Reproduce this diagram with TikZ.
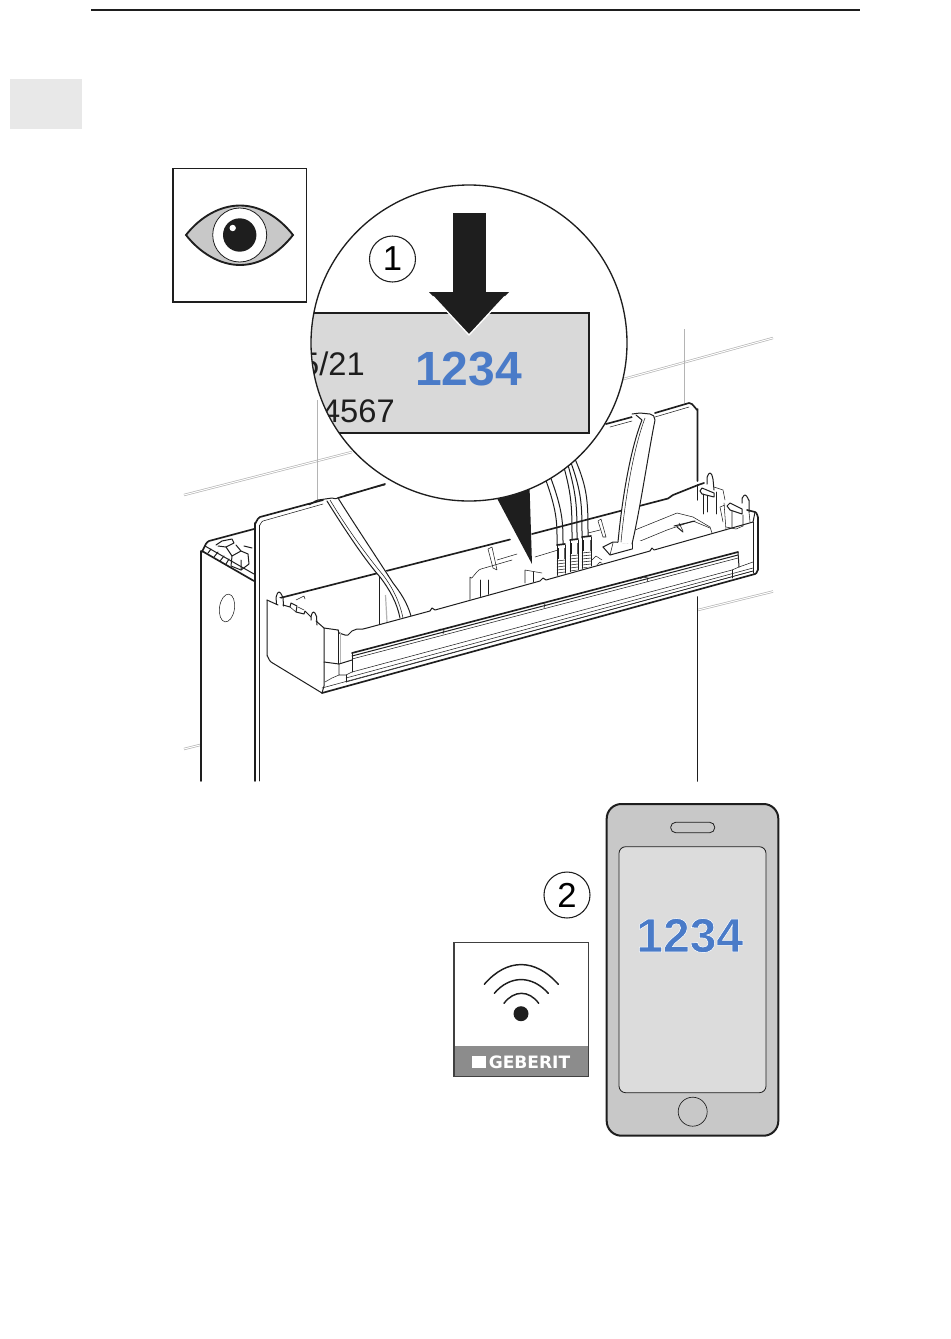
\documentclass[tikz,border=0pt]{standalone}
\usepackage{fontspec}
\setmainfont{Liberation Sans}
\newfontfamily\gebfont{DejaVu Sans}
\definecolor{codeblue}{HTML}{4A7BC8}
\definecolor{labelgrey}{HTML}{D9D9D9}
\definecolor{phonegrey}{HTML}{C8C8C8}
\definecolor{screengrey}{HTML}{DCDCDC}
\definecolor{tabgrey}{HTML}{E8E8E8}
\definecolor{bandgrey}{HTML}{8C8C8C}
\definecolor{tilegrey}{HTML}{B4B4B4}
\definecolor{inkblack}{HTML}{1E1E1E}
\tikzset{
  thk/.style={draw=inkblack,line width=1.25pt,line join=round,line cap=round},
  med/.style={draw=inkblack,line width=.75pt,line join=round,line cap=round},
  thn/.style={draw=inkblack,line width=.4pt,line join=round,line cap=round},
  tile/.style={draw=tilegrey,line width=.5pt,double=white,double distance=.75pt},
  tilev/.style={draw=tilegrey,line width=.7pt},
  numring/.style={circle,draw=inkblack,line width=.8pt,minimum size=34.5pt,inner sep=0pt,font=\fontsize{26}{26}\selectfont},
  code/.style={font=\fontsize{36}{36}\selectfont\bfseries,text=codeblue,inner sep=0pt,anchor=base},
  plate/.style={font=\fontsize{24.5}{24.5}\selectfont,text=inkblack,inner sep=0pt,anchor=base east}
}
\begin{document}
\begin{tikzpicture}[x=.75pt,y=-.75pt]
\useasboundingbox (0,0) rectangle (950,1339);
% page furniture
\draw[line width=1.4pt,draw=inkblack] (91,10) -- (860,10);
\fill[tabgrey] (10,79) rectangle (81.5,129);
% tiles
\draw[tile] (184,495) -- (352,452);
\draw[tile] (620,380) -- (773,338);
\draw[tile] (698,610) -- (773,591.5);
\draw[tile] (184,749) -- (200,745);
\draw[tilev] (317.5,400) -- (317.5,505);
\draw[tilev] (684,329) -- (684,404);
% rear box
\path[fill=white] (201,781) -- (201,552) -- (206,542) -- (256,528) -- (256,781) -- cycle;
\draw[thk] (201,781) -- (201,551) to[out=-80,in=200] (209,541) -- (254,529);
\draw[thk] (202,551) -- (254,581);
\draw[med] (205,546) -- (254,574);
\draw[med] (216,545) -- (222,541) -- (232,539) -- (234,543) -- (226,547) -- (218,546);
\draw[med] (226,547) -- (232,556) -- (241,551) -- (236,545);
\draw[med] (232,556) -- (231,566) -- (241,570);
\draw[med] (241,551) -- (248,554) -- (249,564) -- (241,570) -- (241,560);
\draw[med] (208,553) -- (211,549) (214,557) -- (218,552) (220,561) -- (224,556) (226,564) -- (229,559) (244,546) -- (252,548);
\draw[thn,rotate around={-8:(227,608)}] (227,608) ellipse (7.5 and 14);
% big panel
\path[fill=white] (255,781) -- (255,523) -- (259,517) -- (690,402) -- (698,408) -- (698,781) -- cycle;
\draw[thk] (255,781) -- (255,523) to[out=-90,in=195] (260,517) -- (323,500);
\draw[thk] (338,498) -- (385,484);
\draw[thk] (606,424) -- (632,417);
\draw[thk] (655,413) -- (689,403) to[out=15,in=-90] (697.5,409) -- (697.5,481);
\draw[thk] (697.5,597) -- (697.5,781);
\draw[thn] (259.5,781) -- (259.5,525) to[out=-90,in=195] (263,521) -- (323,504);
\draw[thn] (345,495) -- (385,485);
\draw[thn] (610,427) -- (632,421);
\draw[thn] (655,417) -- (689,407);
% trough back edge
\draw[thk] (280,598) -- (510,539.5);
\draw[thk] (532,534) -- (668,498.5) -- (673,495) -- (698,485);
% things inside
\draw[thn] (379,576) -- (379,625);
\draw[draw=tilegrey,line width=.9pt] (385.5,595) -- (387,622);
\draw[thn] (497,560) -- (517,554);
\draw[thn] (535,557) -- (558,550);
\draw[thn] (588,533) -- (600,530);
% rounded box
\draw[thn] (470,602) -- (470,577) to[out=-80,in=195] (481,569) -- (512,560);
\draw[thn] (480,600) -- (480,580);
\draw[thn] (488,597) -- (488,580);
\draw[thn] (525,583) -- (525,570) -- (542,573);
\draw[thn] (533,583) -- (533,572);
% fins
\draw[thn] (488,549) -- (493,568) -- (497,570) -- (492,547) -- cycle;
\draw[thn] (598,521) -- (603,537) -- (606,537) -- (601,519) -- cycle;
% cables
\foreach \a/\b/\c/\d/\e/\f in {
 547/485/558/517/557/545,
 552/483/563/515/563/545,
 566/472/572/500/572/540,
 570/470/577/500/577/540,
 572/467/582/497/582/538,
 576/465/588/493/588/537}{
  \draw[med] (\a-5,\b-15) .. controls (\c,\d-6) and (\e,\d+6) .. (\e,\f);
}
\foreach \xl/\xr/\yt/\yb in {557/565/545/576,570/578/540/574,582/591/537/569}{
  \path[fill=white] (\xl,\yt) rectangle (\xr,\yb);
  \draw[thk] (\xl,\yt) -- (\xr,\yt-1);
  \draw[med] (\xl,\yt) -- (\xl,\yb) (\xr,\yt) -- (\xr,\yb);
  \fill[inkblack] (\xl,\yt+3) rectangle (\xl+1.6,\yt+14);
  \fill[inkblack!70] (\xr-1.2,\yt+3) rectangle (\xr,\yt+14);
  \foreach \k in {16,19,...,31}{\draw[thn] (\xl,\yt+\k) -- (\xr,\yt+\k-1);}
}
\draw[thn] (592,560) -- (596,556) -- (602,560) (596,566) -- (600,562) -- (604,565);
% right tray
\draw[thn] (630,532) -- (677,513) -- (693,517) -- (710,527);
\draw[thn] (633,544) -- (667,530) -- (693,521) -- (710,528);
\draw[thn] (710,527) -- (712,533);
\draw[med] (677,527) -- (683,532) (674,526) -- (695,521);
\draw[thn] (679,523) -- (683,531);
% right strap foot
\path[fill=white] (603,547) -- (613,541) -- (650,541) -- (650,548) -- (611,556) -- cycle;
\draw[med] (603,547) -- (613,542) -- (632,543);
\draw[med] (603,547) -- (610,555) -- (632,549);
\draw[thn] (610,555) -- (613,543);
\draw[thn] (632,543) -- (632,549);
% right strap
\path[fill=white] (618,543) .. controls (622,500) and (630,450) .. (637,425) -- (632,416) -- (640,413) -- (650,414) -- (655,420) .. controls (648,455) and (640,510) .. (632,544) -- cycle;
\draw[med] (618,542) .. controls (622,500) and (630,450) .. (642,420) -- (636,415);
\draw[thn] (621,542) .. controls (625,500) and (633,450) .. (645,418);
\draw[med] (632,414) to[out=-5,in=175] (640,413) -- (650,414) to[out=0,in=90] (655,420) .. controls (648,455) and (640,510) .. (632,544);
% left strap
\path[fill=white] (328,501) .. controls (345,530) and (365,560) .. (380,577) .. controls (390,590) and (396,603) .. (400,618) -- (411,616) .. controls (406,600) and (400,590) .. (393,583) .. controls (375,550) and (355,525) .. (338,498) -- cycle;
\draw[med] (307,504) to[out=-40,in=185] (318,500) -- (332,498) to[out=0,in=-125] (338,498);
\draw[med] (327,501) .. controls (345,530) and (365,560) .. (380,577) .. controls (390,590) and (397,603) .. (400,618);
\draw[thn] (330,500) .. controls (348,530) and (368,557) .. (383,575) .. controls (393,588) and (400,603) .. (403,618);
\draw[med] (338,498) .. controls (355,525) and (375,555) .. (393,583) .. controls (400,592) and (407,602) .. (411,616);
% front body
\path[fill=white] (322,693) -- (267,660) -- (267,600) -- (280,598) -- (324,628) -- (338,630) -- (339,633) -- (348,635) -- (357,629) -- (367,628) -- (753,522) -- (758,515) -- (758,572) -- cycle;
% rim
\draw[med] (324,628) -- (338,630) -- (339,633) -- (345,635) -- (348,635) -- (352,631) -- (357,629) -- (363,629) -- (367,628) -- (430,611) -- (432,608) -- (435,610) -- (540,581) -- (543,578) -- (546,580) -- (650,551) -- (652,548) -- (654,550) -- (700,537) -- (753,522);
% rear right end
\draw[thk] (698,485) -- (704,483);
\draw[thk] (747,510) -- (755,512) to[out=0,in=-90] (758,517) -- (758,570) to[out=90,in=0] (755,574);
\draw[thk] (755,574) -- (322,693);
\draw[med] (753,522) -- (753,573);
\draw[med] (755,512) -- (753,522);
\draw[thn] (322,688) -- (753,571);
% left end
\draw[med] (267,600) -- (267,656) to[out=90,in=150] (271,662) -- (322,693);
\draw[med] (267,600) -- (278,605);
\draw[med] (324,628) -- (324,686) -- (322,693);
\draw[thn] (338,630) -- (338,664);
\draw[draw=tilegrey,line width=.5pt] (340,632) -- (340,664);
\draw[med] (283,605) -- (290,607) -- (291,603) -- (297,606) -- (296,612) -- (304,614) -- (305,611) -- (311,617);
\draw[thn] (290,607) -- (296,612) (298,607) -- (304,610);
\draw[med] (316,621) -- (324,628);
% posts left
\draw[med] (276.5,604) -- (276,597) to[out=-90,in=180] (279,592) to[out=0,in=-90] (283,597) -- (283.5,606);
\draw[med] (311,620) -- (311,616) to[out=-90,in=180] (313.5,612) to[out=0,in=-90] (316.5,616) -- (317,625);
\draw[thn] (296,600) -- (304,596) -- (305,599);
% rail
\draw[thk] (352,653) -- (738,552);
\draw[med] (352,656) -- (738,555);
\draw[thn] (352,659) -- (738,558);
\draw[thn] (352,672) -- (732,570);
\draw[thn] (346,678) -- (753,568);
\draw[thn] (346,682) -- (753,571);
\draw[thn] (352,653) -- (352,672);
\draw[med] (324,662) -- (339,664) -- (352,660);
\draw[thn] (339,664) -- (339,675) -- (346,675) -- (352,672);
\draw[thn] (346,675) -- (346,682);
\draw[thn] (325,682) -- (332,678) -- (339,675);
\draw[thn] (437,631) -- (440,629) -- (444,630) -- (443,634);
\draw[thn] (537,605) -- (540,603) -- (545,604) -- (544,608);
\draw[thn] (640,579) -- (643,577) -- (648,578) -- (647,582);
% right end details
\draw[med] (738,552) -- (739,567);
\draw[thn] (732,570) -- (732,578);
\draw[thn] (732,570) -- (739,567) -- (753,562);
% right clips
\draw[med] (697,485) -- (697,500);
\draw[med] (707,484) -- (707,477) to[out=-90,in=180] (710,473) to[out=0,in=-90] (713,479) -- (714,490);
\draw[med] (742,503) -- (742,498) to[out=-90,in=180] (745,495) to[out=0,in=-90] (749,500) -- (749,512);
\draw[med] (700,491) -- (702,488) -- (714,493) -- (714,497) -- (702,494) -- cycle;
\draw[med] (727,506) -- (730,503) -- (742,509) -- (742,514) -- (730,510) -- cycle;
\draw[thn] (703,494) -- (703,514) (707,496) -- (707,512) (716,492) -- (716,514);
\draw[thn] (714,487) -- (723,490) -- (725,500) (725,505) -- (720,507) -- (723,522);
\draw[thn] (724,503) -- (726,530) (732,511) -- (732,528) (743,515) -- (743,526) (749,512) -- (750,522);
\draw[thn] (726,527) -- (736,529) -- (743,526);
% pointer wedge
\fill[inkblack] (482,470) -- (529,470) -- (532,564) -- cycle;
% magnifier
\path[fill=white] (469,343) circle (158);
\begin{scope}
  \clip (469,343) circle (158);
  \draw[fill=labelgrey,draw=inkblack,line width=1.2pt] (290,313) rectangle (588.7,432.7);
  \node[plate] (dateplate) at (365,375) {5/21};
  \node[plate] (serialplate) at (395,422) {4567};
\end{scope}
\draw[draw=inkblack,line width=1pt] (469,343) circle (158);
\draw[fill=inkblack,draw=white,line width=1pt,line join=miter] (453,213) -- (485,213) -- (485,292) -- (509,292) -- (469,335) -- (429,292) -- (453,292) -- cycle;
\draw[draw=inkblack,line width=.1pt,fill=inkblack] (453,213) -- (485,213) -- (485,292) -- (453,292) -- cycle;
\fill[inkblack] (429,292) -- (509,292) -- (505,296) -- (433,296) -- cycle;
\node[code] (platecode) at (468.5,385) {1234};
\node[numring] (stepone) at (392.5,259) {1};
% eye
\draw[draw=inkblack,line width=1pt] (173,168.5) rectangle (306.7,302);
\draw[fill=phonegrey,draw=inkblack,line width=1.4pt] (186,235) .. controls (200,217) and (220,205.5) .. (240,205.5) .. controls (260,205.5) and (279,217) .. (293,235) .. controls (279,253) and (260,265) .. (240,265) .. controls (220,265) and (200,253) .. cycle;
\draw[fill=white,draw=inkblack,line width=.6pt] (239.7,235) circle (27);
\fill[inkblack] (239.7,235) circle (16.7);
\fill[white] (232.7,228) circle (3.2);
% phone
\draw[fill=phonegrey,draw=inkblack,line width=1.5pt,rounded corners=11pt] (606.7,804) rectangle (778.3,1135.7);
\draw[fill=screengrey,draw=inkblack,line width=.6pt,rounded corners=5pt] (619,846.7) rectangle (766,1092.7);
\draw[draw=inkblack,line width=.6pt,rounded corners=3.7pt] (670.7,822.3) rectangle (714.7,832.7);
\draw[draw=inkblack,line width=.5pt] (692.7,1111.7) circle (14.5);
\node[code] (phonecode) at (689.7,952) {\special{pdf:code q 2 Tr 1 1 1 RG 0.4 w}1234\special{pdf:code 0 Tr Q}};
\node[numring] (steptwo) at (567,895) {2};
% wifi badge
\draw[draw=inkblack!85,line width=1pt] (454,942.7) rectangle (588.5,1076.5);
\fill[bandgrey] (454.5,1046) rectangle (588,1076);
\fill[white] (472.3,1056) rectangle (485.7,1068.3);
\node[text=white,inner sep=0pt,anchor=base west,font=\gebfont\fontsize{12.8}{13}\selectfont\bfseries] (brand) at (488.5,1068.3) {GEBERIT};
\fill[inkblack] (521,1013.7) circle (7.5);
\draw[draw=inkblack,line width=1.1pt,line cap=round] (484.3,984.3) .. controls (507,958) and (535,958) .. (558.3,984.3);
\draw[draw=inkblack,line width=1.1pt,line cap=round] (494.3,993.3) .. controls (510,975) and (532,975) .. (548.3,993.3);
\draw[draw=inkblack,line width=1.1pt,line cap=round] (504,1003.3) .. controls (514,990) and (529,990) .. (538.7,1003.3);
\end{tikzpicture}
\end{document}
